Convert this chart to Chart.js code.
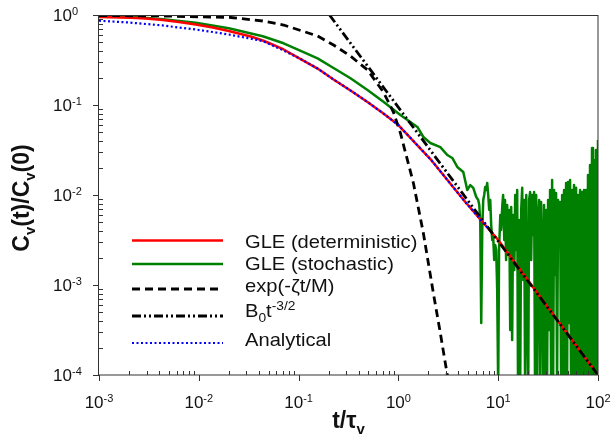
<!DOCTYPE html>
<html><head><meta charset="utf-8">
<script src="https://cdn.jsdelivr.net/npm/chart.js@4/dist/chart.umd.min.js"></script>
<style>html,body{margin:0;padding:0;background:#fff}</style>
</head><body>
<canvas id="c" width="613" height="444"></canvas>
<script>
// ---------- data ----------
const xTickValues = [1e-3, 1e-2, 1e-1, 1, 10, 100];
const xTickLabels = ['10^{-3}', '10^{-2}', '10^{-1}', '10^{0}', '10^{1}', '10^{2}'];
const yTickValues = [1e-4, 1e-3, 1e-2, 1e-1, 1];
const yTickLabels = ['10^{-4}', '10^{-3}', '10^{-2}', '10^{-1}', '10^{0}'];
const xTitle = 't/τ_{v}';
const yTitle = 'C_{v}(t)/C_{v}(0)';
const seriesNames = ['GLE (deterministic)', 'GLE (stochastic)', 'exp(-ζt/M)', 'B_{0}t^{-3/2}', 'Analytical'];

// GLE (deterministic)
const detT = [0.001, 0.00209, 0.00295, 0.00437, 0.00631, 0.00933, 0.0138, 0.01995, 0.0331, 0.0437, 0.049, 0.0708, 0.105, 0.155, 0.224, 0.331, 0.490, 0.708, 1.0, 2.09, 4.68, 10, 31.6, 100];
const detV = [0.950, 0.931, 0.914, 0.880, 0.836, 0.784, 0.726, 0.664, 0.577, 0.521, 0.495, 0.414, 0.324, 0.254, 0.192, 0.145, 0.108, 0.0804, 0.0599, 0.0251, 0.00836, 0.00316, 0.000562, 0.0001];

// GLE (stochastic): smooth part then noisy tail
const stoT = [0.001, 0.00209, 0.00437, 0.00933, 0.01995, 0.0437, 0.0708, 0.105, 0.155, 0.224, 0.331, 0.490, 0.708, 1.047, 1.549, 1.778, 2.089, 2.630, 3.090, 3.467, 3.890, 4.467, 4.898, 5.248, 5.623, 6.026,
  6.31, 6.46, 6.61, 6.76, 6.92, 7.08, 7.24, 7.41, 7.59, 7.76, 7.94, 8.13, 8.32, 8.51, 8.71, 8.91, 9.12, 9.33, 9.55, 9.77,
  10.0, 10.2, 10.5, 10.7, 11.0, 11.2, 11.5, 11.7, 12.0, 12.3, 12.6, 12.9, 13.2, 13.5, 13.8, 14.1, 14.5, 14.8, 15.1, 15.5,
  15.8, 16.2, 16.6, 17.0, 17.4, 17.8, 18.2, 18.6, 19.1, 19.5, 20.0, 20.4, 20.9, 21.4, 21.9, 22.4, 22.9, 23.4, 24.0, 24.5,
  25.1, 25.7, 26.3, 26.9, 27.5, 28.2, 28.8, 29.5, 30.2, 30.9, 31.6, 32.4, 33.1, 33.9, 34.7, 35.5, 36.3, 37.2, 38.0, 38.9,
  39.8, 40.7, 41.7, 42.7, 43.7, 44.7, 45.7, 46.8, 47.9, 49.0, 50.1, 51.3, 52.5, 53.7, 55.0, 56.2, 57.5, 58.9, 60.3, 61.7,
  63.1, 64.6, 66.1, 67.6, 69.2, 70.8, 72.4, 74.1, 75.9, 77.6, 79.4, 81.3, 83.2, 85.1, 87.1, 89.1, 91.2, 93.3, 95.5, 97.7, 100];
const stoV = [0.975, 0.955, 0.896, 0.821, 0.712, 0.580, 0.485, 0.400, 0.330, 0.258, 0.198, 0.147, 0.1088, 0.0774, 0.0570, 0.0441, 0.0378, 0.0341, 0.0278, 0.0258, 0.0205, 0.0180, 0.01136, 0.0129, 0.0120, 0.0095,
  0.0088, 0.00774, 0.00501, 0.000378, 0.00408, 0.0088, 0.0100, 0.0123, 0.01136, 0.0136, 0.0100, 0.00681, 0.0088, 0.00464, 0.00316, 0.00341, 0.0019, 0.00278, 0.00245, 0.00088,
  0.00007, 0.00245, 0.00599, 0.00408, 0.00774, 0.0100, 0.00316, 0.0088, 0.0019, 0.00774, 0.00245, 0.00681, 0.000316, 0.00736, 0.000245, 0.00599, 0.00147, 0.0100, 0.00245, 0.01136,
  0.00007, 0.00528, 0.00007, 0.00681, 0.0120, 0.00114, 0.0088, 0.00007, 0.0100, 0.00068, 0.00007, 0.0088, 0.0108, 0.0019, 0.0100, 0.00359, 0.0108, 0.00007, 0.0100, 0.00007,
  0.00528, 0.0088, 0.00007, 0.00836, 0.00245, 0.00007, 0.00774, 0.00007, 0.00681, 0.00007, 0.0088, 0.000316, 0.01136, 0.00007, 0.0147, 0.00007, 0.01136, 0.00129, 0.01053, 0.00007,
  0.0088, 0.00341, 0.00836, 0.00007, 0.0100, 0.00007, 0.01136, 0.00007, 0.0136, 0.00007, 0.01395, 0.000378, 0.0147, 0.00007, 0.01136, 0.00007, 0.0129, 0.00007, 0.0120, 0.00007,
  0.0100, 0.00007, 0.01136, 0.00007, 0.0108, 0.00007, 0.01136, 0.00007, 0.01136, 0.00007, 0.0167, 0.00007, 0.0215, 0.00007, 0.0333, 0.00007, 0.0245, 0.00007, 0.0316, 0.00007, 0.0408];

// exp(-zeta t / M)
const expT = [0.001, 0.00437, 0.0209, 0.0437, 0.0708, 0.155, 0.224, 0.331, 0.490, 0.708, 0.891, 1.047, 1.413, 1.778, 2.239, 2.630, 3.090, 3.311];
const expV = [0.987, 0.975, 0.938, 0.858, 0.774, 0.584, 0.464, 0.350, 0.245, 0.139, 0.0836, 0.0489, 0.0136, 0.00378, 0.000815, 0.000293, 0.0001, 0.00006];

// B0 t^-3/2
const powT = [0.204, 100];
const powV = [1.0, 0.0001];

// Analytical
const anaT = [0.001, 0.002, 0.00437, 0.00631, 0.00933, 0.0138, 0.01995, 0.0437, 0.0708, 0.105, 0.155, 0.224, 0.331, 0.490, 0.708, 1.0, 2.09, 4.68, 7.94];
const anaV = [0.864, 0.825, 0.765, 0.726, 0.690, 0.647, 0.607, 0.514, 0.403, 0.324, 0.254, 0.192, 0.145, 0.108, 0.0804, 0.0599, 0.0251, 0.00836, 0.00425];

// ---------- helpers ----------
const pts = (t, v) => t.map((x, i) => ({x: x, y: v[i]}));
const FAM = 'Arial, "Liberation Sans", sans-serif';

function segs(str) {
  const out = []; let buf = ''; let i = 0;
  while (i < str.length) {
    const c = str[i];
    if ((c === '^' || c === '_') && str[i + 1] === '{') {
      if (buf) { out.push({t: buf, m: 0}); buf = ''; }
      const j = str.indexOf('}', i);
      out.push({t: str.slice(i + 2, j), m: c === '^' ? 1 : -1});
      i = j + 1;
    } else { buf += c; i++; }
  }
  if (buf) out.push({t: buf, m: 0});
  return out;
}
function rich(ctx, str, x, y, size, align, bold, sx) {
  sx = sx || 1;
  const s = segs(str);
  const w = bold ? 'bold ' : '';
  const f = m => w + (m === 0 ? size : Math.round(size * 0.66)) + 'px ' + FAM;
  let total = 0;
  s.forEach(p => { ctx.font = f(p.m); p.w = ctx.measureText(p.t).width; total += p.w; });
  total *= sx;
  let cx = align === 'center' ? x - total / 2 : align === 'right' ? x - total : x;
  ctx.save();
  ctx.translate(cx, y);
  ctx.scale(sx, 1);
  ctx.textAlign = 'left'; ctx.textBaseline = 'alphabetic';
  let px = 0;
  s.forEach(p => {
    ctx.font = f(p.m);
    const dy = p.m === 1 ? -size * 0.38 : p.m === -1 ? size * 0.24 : 0;
    ctx.fillText(p.t, px, dy);
    px += p.w;
  });
  ctx.restore();
  return total;
}

const legendOrder = [0, 1, 2, 3, 4];
const legendLineY = [240.5, 264, 289, 316, 343];
const legendTextY = [248, 270, 292, 317, 346];

const decor = {
  id: 'decor',
  afterDatasetsDraw(chart) {
    const ctx = chart.ctx, a = chart.chartArea;
    const xs = chart.scales.x, ys = chart.scales.y;
    ctx.save();
    // frame
    ctx.strokeStyle = '#333'; ctx.lineWidth = 1;
    ctx.strokeRect(Math.round(a.left) - 0.5, Math.round(a.top) + 0.5, Math.round(a.right - a.left) + 0.5, Math.round(a.bottom - a.top) - 0.5);
    // ticks
    ctx.beginPath();
    for (let d = -3; d <= 2; d++) {
      for (let m = 1; m <= 9; m++) {
        const v = m * Math.pow(10, d);
        if (v > 100.0001) break;
        const px = Math.round(xs.getPixelForValue(v)) + 0.5;
        if (m === 1) { ctx.moveTo(px, a.bottom); ctx.lineTo(px, a.bottom + 6); }
        else { ctx.moveTo(px, a.bottom); ctx.lineTo(px, a.bottom - 4); }
      }
    }
    for (let d = -4; d <= 0; d++) {
      for (let m = 1; m <= 9; m++) {
        const v = m * Math.pow(10, d);
        if (v > 1.0001) break;
        const py = Math.round(ys.getPixelForValue(v)) + 0.5;
        if (m === 1) { ctx.moveTo(a.left, py); ctx.lineTo(a.left - 6, py); }
        else { ctx.moveTo(a.left, py); ctx.lineTo(a.left + 4, py); }
      }
    }
    ctx.stroke();
    // tick labels
    ctx.fillStyle = '#111';
    xTickValues.forEach((v, i) => {
      rich(ctx, xTickLabels[i], xs.getPixelForValue(v), a.bottom + 33, 17, 'center', false);
    });
    ctx.font = '17px ' + FAM;
    const baseW = ctx.measureText('10').width;
    yTickValues.forEach((v, i) => {
      rich(ctx, yTickLabels[i], a.left - 27 - baseW, ys.getPixelForValue(v) + 6, 17, 'left', false);
    });
    // axis titles
    rich(ctx, xTitle, (a.left + a.right) / 2, 428, 23, 'center', true);
    ctx.save();
    ctx.translate(29, (a.top + a.bottom) / 2 + 3);
    ctx.rotate(-Math.PI / 2);
    rich(ctx, yTitle, 0, 0, 23, 'center', true);
    ctx.restore();
    // legend
    legendOrder.forEach((di, r) => {
      const ds = chart.data.datasets[di];
      const y = legendLineY[r];
      ctx.save();
      ctx.strokeStyle = ds.borderColor; ctx.lineWidth = ds.borderWidth;
      ctx.setLineDash(ds.borderDash || []);
      ctx.beginPath(); ctx.moveTo(132, y); ctx.lineTo(223, y); ctx.stroke();
      ctx.restore();
      ctx.fillStyle = '#111';
      rich(ctx, ds.label, 245, legendTextY[r], 19, 'left', false, 1.06);
    });
    ctx.restore();
  }
};

new Chart(document.getElementById('c'), {
  type: 'line',
  data: {
    datasets: [
      {label: seriesNames[0], data: pts(detT, detV), borderColor: '#ff0000', borderWidth: 2.5, order: 3},
      {label: seriesNames[1], data: pts(stoT, stoV), borderColor: '#008000', borderWidth: 2.5, order: 4},
      {label: seriesNames[2], data: pts(expT, expV), borderColor: '#000000', borderWidth: 2.8, borderDash: [8, 5], order: 2},
      {label: seriesNames[3], data: pts(powT, powV), borderColor: '#000000', borderWidth: 2.8, borderDash: [9, 3, 2, 3, 2, 3], order: 1},
      {label: seriesNames[4], data: pts(anaT, anaV), borderColor: '#0000ff', borderWidth: 2.2, borderDash: [2, 2.5], order: 0}
    ]
  },
  options: {
    responsive: false,
    animation: false,
    devicePixelRatio: 1,
    elements: {point: {radius: 0}, line: {tension: 0, fill: false, borderJoinStyle: 'round'}},
    layout: {padding: {top: 15, right: 15, left: 0, bottom: 0}},
    plugins: {legend: {display: false}, tooltip: {enabled: false}},
    scales: {
      x: {type: 'logarithmic', min: 1e-3, max: 100, ticks: {display: false}, grid: {display: false, drawTicks: false}, border: {display: false},
          afterFit: s => { s.height = 69; }},
      y: {type: 'logarithmic', min: 1e-4, max: 1, ticks: {display: false}, grid: {display: false, drawTicks: false}, border: {display: false},
          afterFit: s => { s.width = 99; }}
    }
  },
  plugins: [decor]
});
</script>
</body></html>
